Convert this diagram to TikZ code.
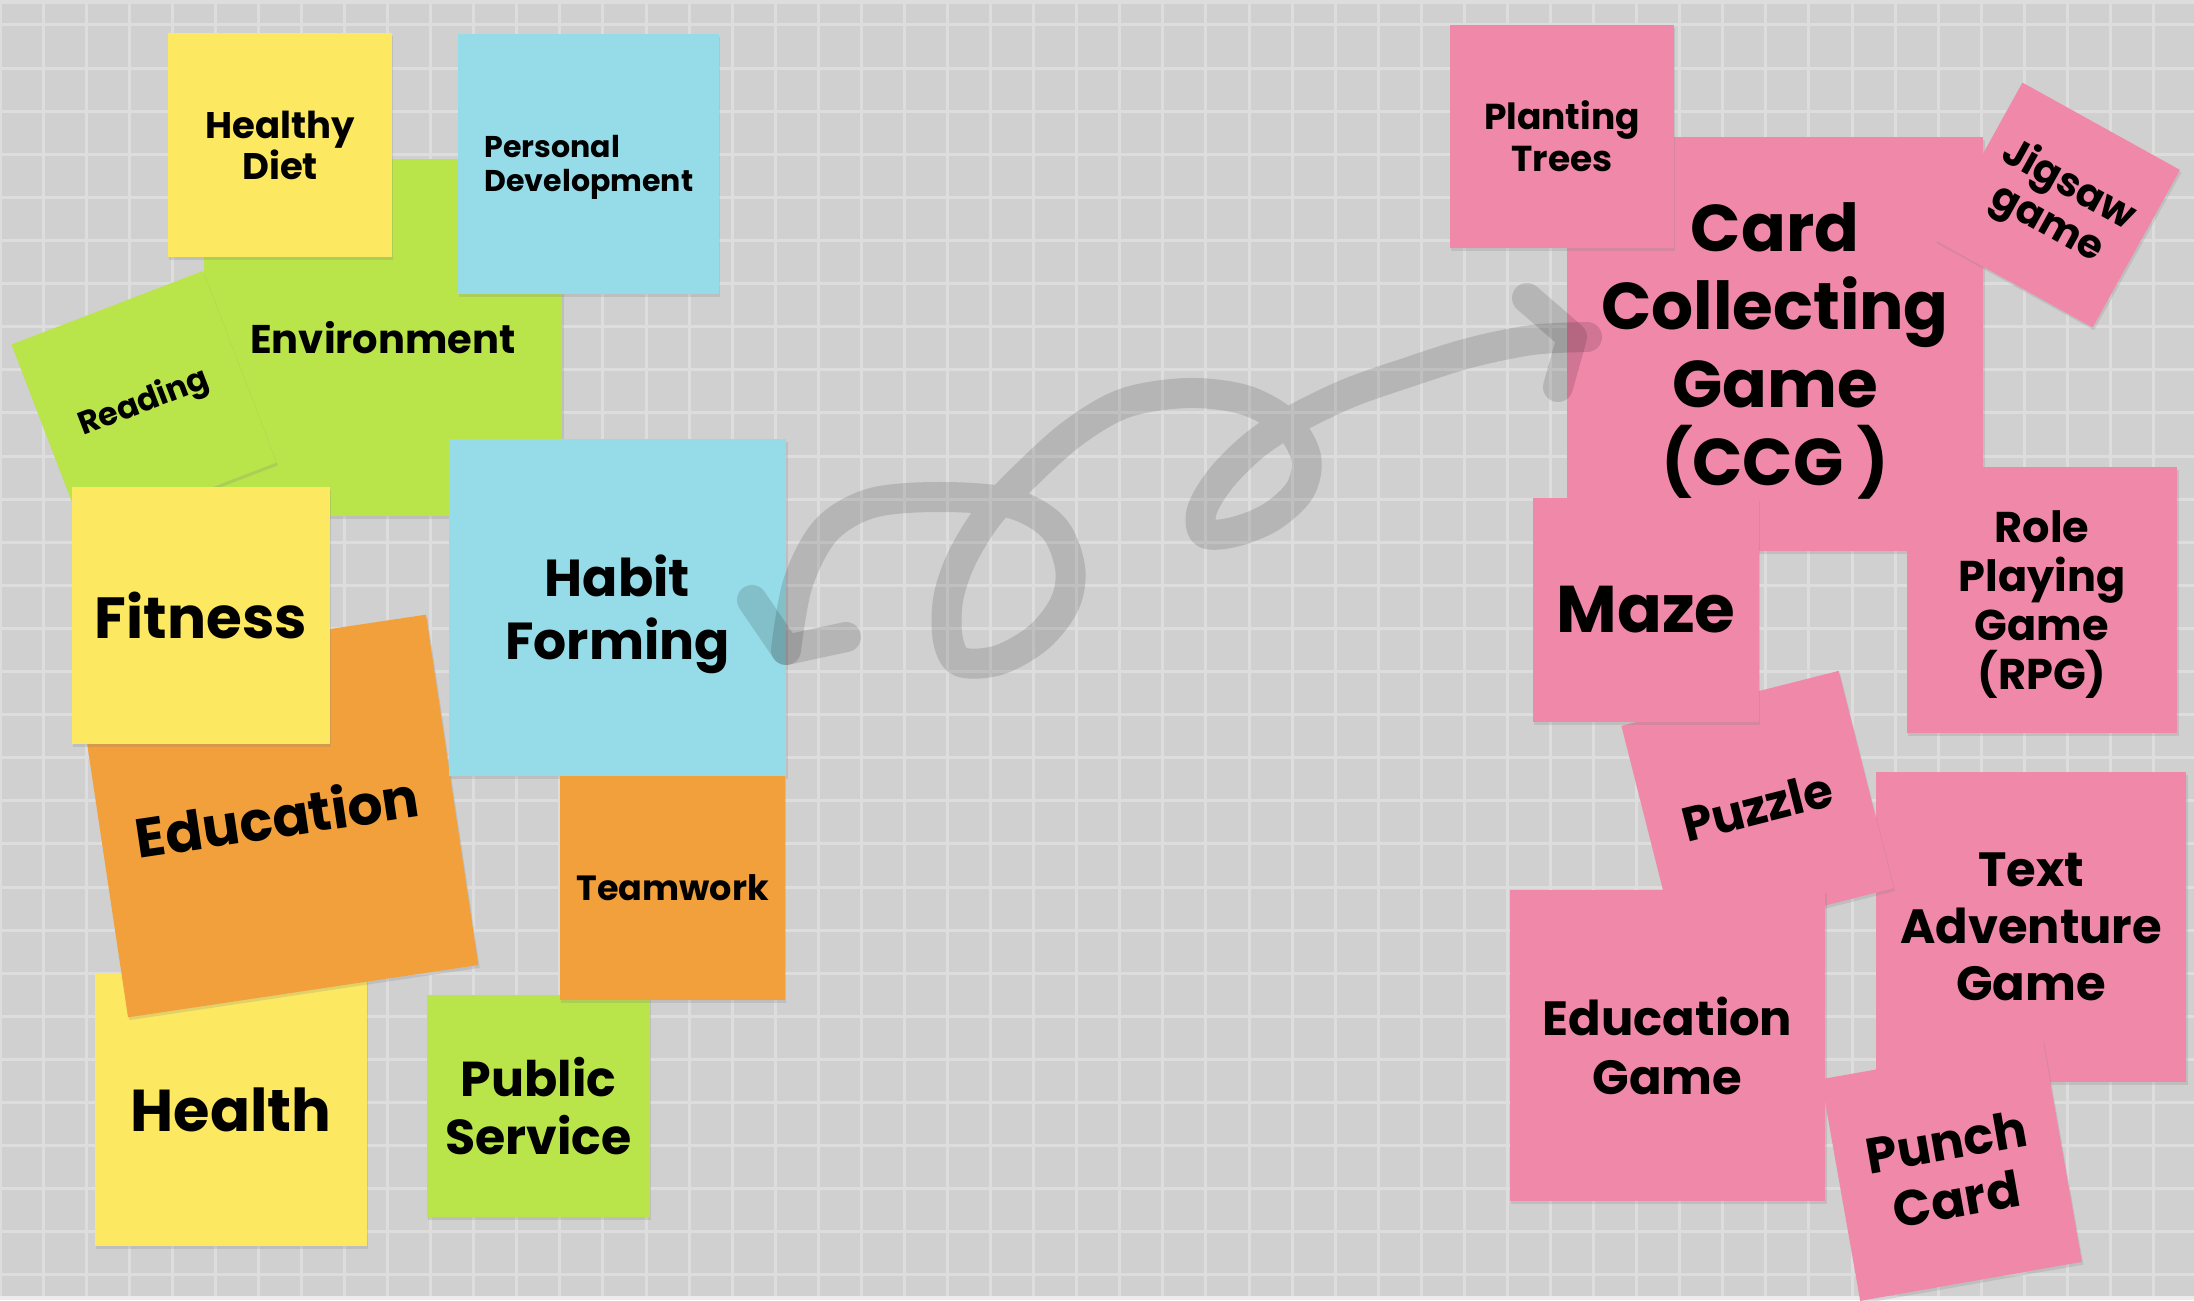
\documentclass[tikz,border=0pt]{standalone}
\usepackage{fontspec}
\setmainfont{Poppins}
\usetikzlibrary{shadows}

\definecolor{board}{HTML}{D0D0D0}
\definecolor{gridln}{HTML}{DDDDDD}
\definecolor{footband}{HTML}{ECECEC}
\definecolor{ny}{HTML}{FDE862}
\definecolor{nb}{HTML}{96DCE8}
\definecolor{ng}{HTML}{BAE54A}
\definecolor{no}{HTML}{F2A03B}
\definecolor{np}{HTML}{F088AA}

% font size given in board pixels (1px = 0.01cm)
\newcommand\pxfont[2]{\fontsize{\fpeval{#1*0.28453}pt}{\fpeval{#2*0.28453}pt}\selectfont\bfseries}

\tikzset{
  sticky/.style={fill=#1, inner sep=0pt, outer sep=0pt, align=center, text=black,
    drop shadow={shadow xshift=0.4pt, shadow yshift=-0.8pt, opacity=0.22}},
  px/.style 2 args={font={\pxfont{#1}{#2}}},
  ink/.style={line width=0.3cm, line cap=round, line join=round, draw=black, draw opacity=0.13}
}

\begin{document}
\begin{tikzpicture}[x=0.01cm, y=-0.01cm]
\useasboundingbox (0,0) rectangle (2194,1300);

% board with grid
\fill[board] (0,0) rectangle (2194,1300);
\foreach \k in {0,...,51}
  \draw[gridln, line width=0.03cm] ({\k*43.07},0) -- ({\k*43.07},1300);
\foreach \k in {0,...,29}
  \draw[gridln, line width=0.03cm] (0,{25+\k*43.1}) -- (2194,{25+\k*43.1});
\fill[gridln] (0,0) rectangle (2194,4);
\fill[footband] (0,1296) rectangle (2194,1300);

% ---- left cluster ----
\node[sticky=ng, minimum width=3.58cm, minimum height=3.57cm, px={40}{46}] (env) at (383,337.5)
  {Environment};
\node[sticky=ny, minimum size=2.24cm, px={37}{41}] (diet) at (280,145)
  {Healthy\\Diet};
\node[sticky=nb, minimum width=2.61cm, minimum height=2.60cm] (pdev) at (588.5,164) {};
\node[align=left, inner sep=0pt, px={30}{34}] (pdevtxt) at (589,167)
  {Personal\\Development};
\node[sticky=ng, minimum size=2.05cm, rotate=21, px={32}{36}] (read) at (144,403.5)
  {Reading};
\node[sticky=ny, minimum width=2.72cm, minimum height=2.72cm, px={59}{68}] (health) at (231,1110)
  {Health};
\node[sticky=no, minimum size=3.54cm, rotate=8.5, px={55}{64}] (edu) at (277,816)
  {Education};
\node[sticky=ny, minimum width=2.58cm, minimum height=2.57cm, px={58}{68}] (fit) at (201,615.5)
  {Fitness};
\node[sticky=nb, minimum size=3.37cm, text depth=0pt, px={52}{63}] (habit) at (617.5,607.5)
  {Habit\\Forming};
\node[sticky=ng, minimum width=2.23cm, minimum height=2.22cm, px={49}{58}] (pub) at (538.5,1106)
  {Public\\Service};
\node[sticky=no, minimum width=2.25cm, minimum height=2.24cm, px={35}{40}] (team) at (672.5,888)
  {Teamwork};

% ---- right cluster ----
\node[sticky=np, minimum width=4.16cm, minimum height=4.14cm, text depth=0pt, px={66}{78}] (ccg) at (1775,344)
  {Card\\Collecting\\Game\\(CCG )};
\node[sticky=np, minimum width=2.24cm, minimum height=2.23cm, px={36}{42}] (trees) at (1562,136.5)
  {Planting\\Trees};
\node[sticky=np, minimum size=1.80cm, rotate=-29, px={40}{44}] (jig) at (2057.5,205)
  {Jigsaw\\game};
\node[sticky=np, minimum width=2.70cm, minimum height=2.66cm, text depth=0pt, px={43}{49}] (rpg) at (2042,600)
  {Role\\Playing\\Game\\(RPG)};
\node[sticky=np, minimum size=3.10cm, px={48}{57}] (tag) at (2031,927)
  {Text\\Adventure\\Game};
\node[sticky=np, minimum size=2.24cm, rotate=14.2, px={48}{52}] (puz) at (1757.5,807)
  {Puzzle};
\node[sticky=np, minimum width=2.26cm, minimum height=2.24cm, px={66}{74}] (maze) at (1646,610)
  {Maze};
\node[sticky=np, minimum width=3.15cm, minimum height=3.11cm, px={48}{59}] (edg) at (1667.5,1045.5)
  {Education\\Game};
\node[sticky=np, minimum size=2.25cm, rotate=10, px={50}{58}] (punch) at (1951.5,1170.5)
  {Punch\\Card};

% ---- hand-drawn looping arrow from Habit Forming to the CCG note ----
\coordinate (inkStart) at (786,650);
\coordinate (inkEnd) at (1587,337);
\draw[ink] plot[smooth, tension=0.55] coordinates {
  (inkStart) (798,583) (826,530) (872,503) (941,497) (1010,503) (1053,527)
  (1070,567) (1065,603) (1039,637) (999,660) (961,662) (948,640) (948,600)
  (961,560) (987,517) (1024,477) (1073,433) (1125,403) (1188,393) (1245,400)
  (1286,423) (1306,457) (1300,490) (1271,517) (1234,532) (1205,533) (1202,510)
  (1222,477) (1257,443) (1297,418) (1349,393) (1406,373) (1469,353) (1532,340)
  (inkEnd)};
\draw[ink] (752,600) -- (inkStart) -- (846,637);
\draw[ink] (1527,298) -- (1572,337) -- (1558,387);
\end{tikzpicture}
\end{document}
